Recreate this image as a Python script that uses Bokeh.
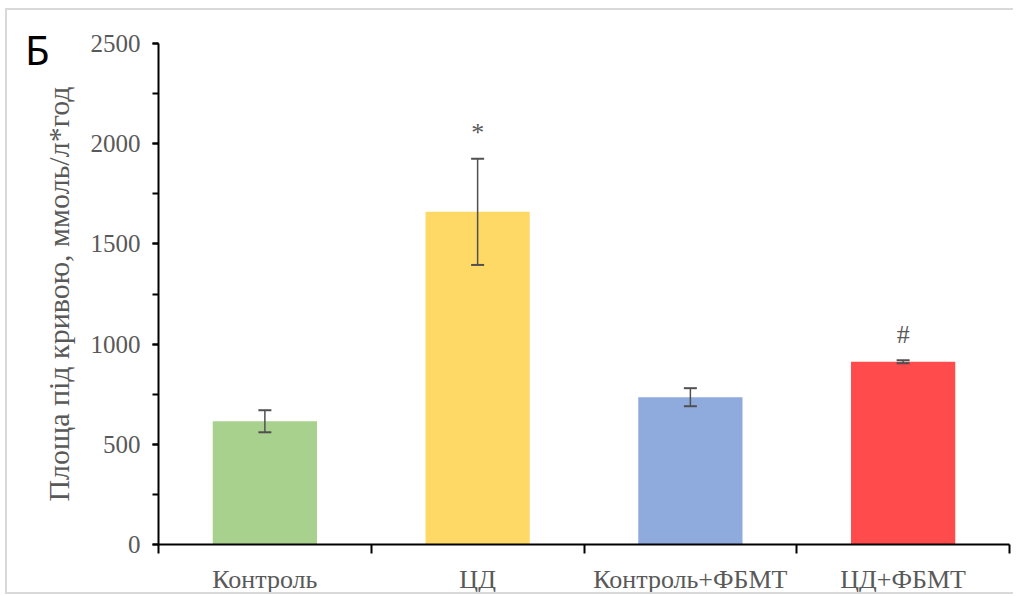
from bokeh.plotting import figure
from bokeh.layouts import column
from bokeh.models import Range1d, FixedTicker, SingleIntervalTicker, ColumnDataSource, Whisker, TeeHead, Div
from bokeh.core.properties import value
from bokeh.embed import file_html
from bokeh.resources import INLINE

categories = ["Контроль", "ЦД", "Контроль+ФБМТ", "ЦД+ФБМТ"]
means = [615, 1660, 735, 912]
errors = [55, 265, 45, 7]
colors = ["#a9d18e", "#ffd966", "#8faadc", "#ff4b4b"]
marks = ["", "*", "", "#"]
mark_y = [0, 2055, 0, 1050]
y_label = "Площа під кривою, ммоль/л*год"
panel = "Б"

xs = [i + 1 for i in range(len(categories))]
src = ColumnDataSource(dict(
    x=xs, top=means, color=colors,
    upper=[m + e for m, e in zip(means, errors)],
    lower=[m - e for m, e in zip(means, errors)],
))

p = figure(width=1008, height=586, output_backend="svg", toolbar_location=None,
           x_range=Range1d(0.5, len(categories) + 0.5), y_range=Range1d(0, 2500),
           min_border_left=151, min_border_right=6, min_border_top=33, min_border_bottom=47)
p.styles = {"border-left": "2px solid #d9d9d9", "border-top": "2px solid #d9d9d9",
            "border-bottom": "2px solid #d9d9d9", "box-sizing": "border-box",
            "margin-left": "5px", "margin-top": "8px"}
p.outline_line_color = None
p.xgrid.visible = False
p.ygrid.visible = False

p.vbar(x="x", top="top", width=0.49, color="color", source=src, line_color=None)
w = Whisker(base="x", upper="upper", lower="lower", source=src,
            line_color="#505050", line_width=1.5, level="overlay")
w.upper_head = TeeHead(size=13, line_color="#505050", line_width=2)
w.lower_head = TeeHead(size=13, line_color="#505050", line_width=2)
p.add_layout(w)

mx = [x for x, m in zip(xs, marks) if m]
my = [y for y, m in zip(mark_y, marks) if m]
mt = [m for m in marks if m]
p.text(x=mx, y=my, text=mt, text_align="center", text_baseline="middle",
       text_font=value("Liberation Serif"), text_font_size="26px", text_color="#595959")

font = "Liberation Serif"
ax = p.xaxis[0]
ax.ticker = FixedTicker(ticks=xs, minor_ticks=[x - 0.5 for x in xs] + [xs[-1] + 0.5])
ax.major_label_overrides = {x: c for x, c in zip(xs, categories)}
ax.major_tick_out = 0
ax.major_tick_in = 0
ax.minor_tick_out = 9
ax.minor_tick_in = 0
ax.minor_tick_line_width = 2
ax.axis_line_width = 2
ax.axis_line_color = "black"
ax.minor_tick_line_color = "black"
ax.major_label_text_font = font
ax.major_label_text_font_size = "26px"
ax.major_label_text_color = "#595959"
ax.major_label_standoff = 11

ay = p.yaxis[0]
ay.ticker = SingleIntervalTicker(interval=500, num_minor_ticks=2)
ay.major_tick_out = 6
ay.major_tick_in = 0
ay.minor_tick_out = 6
ay.minor_tick_in = 0
ay.major_tick_line_width = 2
ay.minor_tick_line_width = 2
ay.axis_line_width = 2
ay.axis_line_color = "black"
ay.major_tick_line_color = "black"
ay.minor_tick_line_color = "black"
ay.major_label_text_font = font
ay.major_label_text_font_size = "25px"
ay.major_label_text_color = "#595959"
ay.major_label_standoff = 12
ay.axis_label = y_label
ay.axis_label_text_font = font
ay.axis_label_text_font_size = "30px"
ay.axis_label_text_font_style = "normal"
ay.axis_label_text_color = "#595959"
ay.axis_label_standoff = 13

tag = Div(text=panel, width=40, height=45,
          styles={"position": "absolute", "left": "20px", "top": "25px", "z-index": "10",
                  "font-family": "Noto Sans", "font-size": "40px", "line-height": "1",
                  "color": "black"})

layout = column(p, tag, spacing=0)
open("out.html", "w").write(file_html(layout, INLINE))
